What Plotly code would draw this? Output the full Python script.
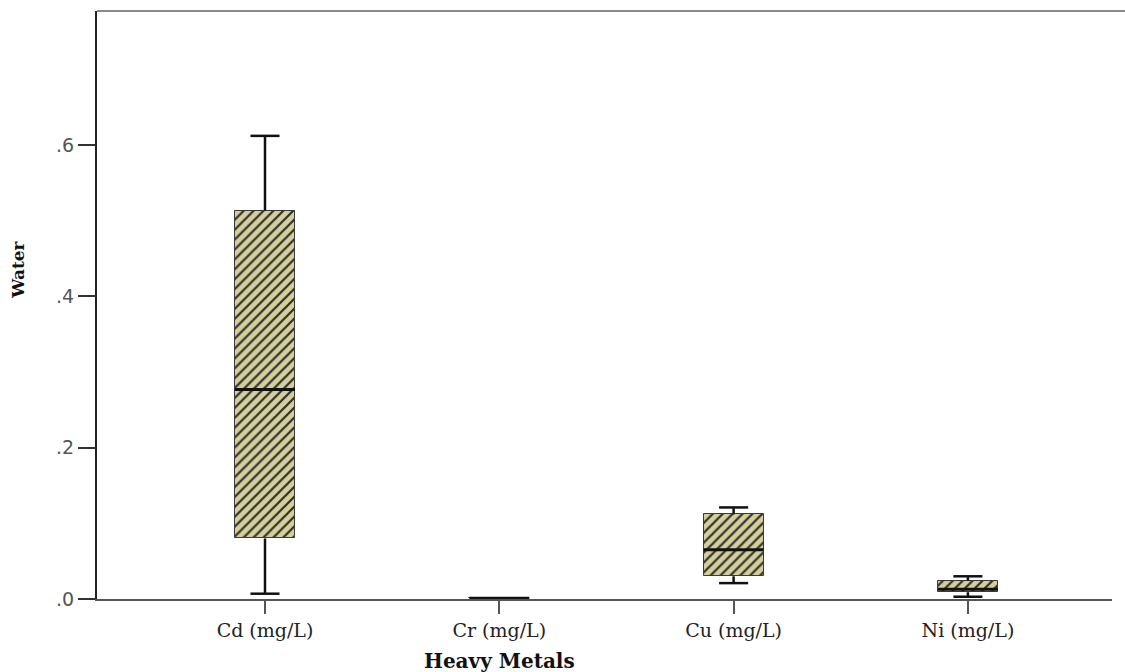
import plotly.graph_objects as go

# Heavy metal concentrations in water (mg/L), five-number summaries per metal
metals = ["Cd (mg/L)", "Cr (mg/L)", "Cu (mg/L)", "Ni (mg/L)"]
lower_whisker = [0.007, 0.001, 0.021, 0.003]
q1 = [0.080, 0.001, 0.030, 0.009]
median = [0.277, 0.001, 0.065, 0.013]
q3 = [0.513, 0.001, 0.112, 0.024]
upper_whisker = [0.612, 0.001, 0.121, 0.030]

y_tick_vals = [0.0, 0.2, 0.4, 0.6]
y_tick_text = [".0", ".2", ".4", ".6"]

BOX_W = 0.256     # box width in category units
CAP_HALF = 0.062  # half-width of whisker caps
MED_HALF = BOX_W / 2

pos = list(range(len(metals)))

fig = go.Figure()

# Hatched boxes (Q1 -> Q3)
fig.add_trace(go.Bar(
    x=pos,
    base=q1,
    y=[b - a for a, b in zip(q1, q3)],
    width=BOX_W,
    marker=dict(
        color="#d5d09a",
        line=dict(color="#3a3a3a", width=1),
        pattern=dict(shape="/", fgcolor="#2e2e2e", bgcolor="#d5d09a",
                     size=7, solidity=0.32, fillmode="replace"),
    ),
    hoverinfo="skip",
    showlegend=False,
))

# Whiskers and caps
wx, wy = [], []
for i in pos:
    wx += [i, i, None, i, i, None]
    wy += [q3[i], upper_whisker[i], None, q1[i], lower_whisker[i], None]
    wx += [i - CAP_HALF, i + CAP_HALF, None, i - CAP_HALF, i + CAP_HALF, None]
    wy += [upper_whisker[i], upper_whisker[i], None, lower_whisker[i], lower_whisker[i], None]
fig.add_trace(go.Scatter(x=wx, y=wy, mode="lines",
                         line=dict(color="#111111", width=2.5),
                         hoverinfo="skip", showlegend=False))

# Median lines
mx, my = [], []
for i in pos:
    mx += [i - MED_HALF, i + MED_HALF, None]
    my += [median[i], median[i], None]
fig.add_trace(go.Scatter(x=mx, y=my, mode="lines",
                         line=dict(color="#111111", width=3),
                         hoverinfo="skip", showlegend=False))

fig.update_layout(
    width=1125, height=672,
    margin=dict(l=97, r=13, t=11, b=73),
    paper_bgcolor="white", plot_bgcolor="white",
    bargap=0,
    xaxis=dict(
        range=[-0.717, 3.615],
        tickmode="array", tickvals=pos, ticktext=metals,
        showgrid=False, zeroline=False,
        showline=True, linecolor="#555555", linewidth=2,
        ticks="outside", ticklen=13, tickwidth=2, tickcolor="#555555",
        tickfont=dict(family="DejaVu Serif", size=19, color="#222222"),
    ),
    yaxis=dict(
        range=[0, 0.777],
        tickmode="array", tickvals=y_tick_vals, ticktext=y_tick_text,
        showgrid=False, zeroline=False,
        showline=True, linecolor="#222222", linewidth=2,
        ticks="outside", ticklen=17, tickwidth=2, tickcolor="#333333",
        tickfont=dict(family="DejaVu Sans", size=19, color="#555555"),
    ),
    shapes=[dict(type="line", xref="paper", yref="paper",
                 x0=0, x1=1.0128, y0=1, y1=1,
                 line=dict(color="#8a8a8a", width=2))],
    annotations=[
        dict(text="<b>Water</b>", textangle=-90, showarrow=False,
             xref="paper", yref="paper", x=0, y=0.56, xshift=-79,
             xanchor="center", yanchor="middle",
             font=dict(family="DejaVu Serif", size=17, color="#111111")),
        dict(text="<b>Heavy Metals</b>", showarrow=False,
             xref="paper", yref="paper", x=0.397, y=0, yshift=-62,
             xanchor="center", yanchor="middle",
             font=dict(family="DejaVu Serif", size=20, color="#111111")),
    ],
)

fig.write_html("out.html")
